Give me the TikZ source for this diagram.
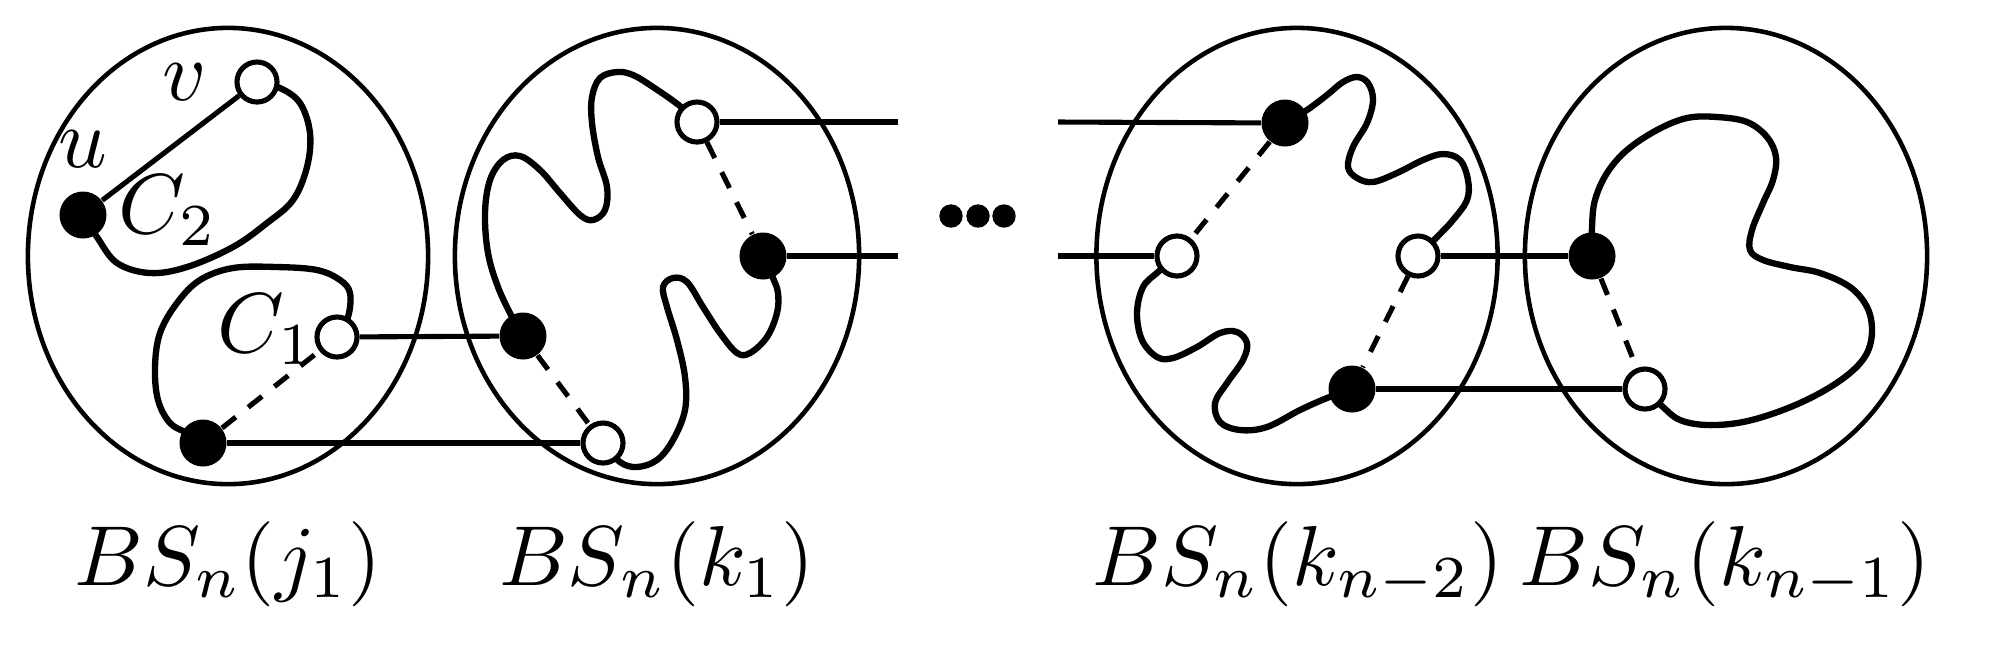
\documentclass[tikz,border=0pt]{standalone}
\usetikzlibrary{shapes.geometric,backgrounds}
\begin{document}
\begin{tikzpicture}[x=0.01cm,y=-0.01cm,
  ring/.style={draw, ellipse, line width=1.3pt, minimum height=4.56cm, inner sep=0},
  wnode/.style={circle, draw, fill=white, line width=1.45pt, minimum size=0.40cm, inner sep=0},
  bnode/.style={circle, fill=black, minimum size=0.47cm, inner sep=0},
  edge/.style={line width=1.45pt},
  dedge/.style={line width=1.45pt, dash pattern=on 5pt off 4.5pt},
  curve/.style={line width=1.8pt, line join=round, line cap=round},
  lab/.style={anchor=base, inner sep=0, scale=2.42},
  dotnode/.style={circle, fill=black, minimum size=0.234cm, inner sep=0}]
\useasboundingbox (0,0) rectangle (2000,647);

% blocks
\node[ring, minimum width=4.00cm] (R1) at (228,256) {};
\node[ring, minimum width=4.04cm] (R2) at (657,256) {};
\node[ring, minimum width=4.01cm] (R3) at (1297,256) {};
\node[ring, minimum width=4.02cm] (R4) at (1726,256) {};

% vertices block 1
\node[wnode] (v) at (257,82) {};
\node[bnode] (u) at (83,215) {};
\node[wnode] (c1w) at (337,337) {};
\node[bnode] (c1b) at (203,443) {};
% block 2
\node[wnode] (w2a) at (697,122) {};
\node[bnode] (b2a) at (763,256) {};
\node[bnode] (b2b) at (523,336) {};
\node[wnode] (w2b) at (603,443) {};
% block 3
\node[bnode] (b3a) at (1285,123) {};
\node[wnode] (w3a) at (1177,256) {};
\node[wnode] (w3b) at (1418,256) {};
\node[bnode] (b3b) at (1352,389) {};
% block 4
\node[bnode] (b4) at (1592,256) {};
\node[wnode] (w4) at (1645,389) {};

% free ends
\coordinate (e1) at (898,122);
\coordinate (e2) at (898,256);
\coordinate (s1) at (1058,122);
\coordinate (s2) at (1058,256);

% dots
\node[dotnode] (d1) at (951,216) {};
\node[dotnode] (d2) at (978,216) {};
\node[dotnode] (d3) at (1004,216) {};

% solid edges
\draw[edge] (u) -- (v);
\draw[edge] (c1w) -- (b2b);
\draw[edge] (c1b) -- (w2b);
\draw[edge] (w2a) -- (e1);
\draw[edge] (b2a) -- (e2);
\draw[edge] (s1) -- (b3a);
\draw[edge] (s2) -- (w3a);
\draw[edge] (w3b) -- (b4);
\draw[edge] (b3b) -- (w4);

% dashed edges
\draw[dedge] (c1b) -- (c1w);
\draw[dedge] (w2a) -- (b2a);
\draw[dedge] (b2b) -- (w2b);
\draw[dedge] (b3a) -- (w3a);
\draw[dedge] (w3b) -- (b3b);
\draw[dedge] (b4) -- (w4);

% curves
\begin{pgfonlayer}{background}
\draw[curve] plot[smooth, tension=0.6] coordinates {(v) (280,88) (300,103) (310,133) (307,167) (293,200) (267,223) (233,247) (187,267) (150,273) (117,263) (97,237) (u)};
\draw[curve] plot[smooth, tension=0.6] coordinates {(c1w) (348,317) (350,293) (340,280) (317,270) (277,267) (233,268) (200,280) (177,303) (160,333) (155,367) (158,400) (170,423) (187,433) (c1b)};
\draw[curve] plot[smooth, tension=0.6] coordinates {(w2a) (680,106) (653,87) (633,75) (617,72) (600,78) (592,97) (592,123) (598,157) (607,187) (605,210) (593,220) (580,215) (560,193) (540,170) (520,156) (503,160) (490,180) (485,213) (488,253) (498,287) (512,317) (b2b)};
\draw[curve] plot[smooth, tension=0.6] coordinates {(w2b) (620,462) (637,467) (657,460) (673,440) (685,410) (685,377) (677,340) (667,307) (663,287) (673,278) (687,282) (703,307) (720,333) (737,353) (750,353) (767,337) (777,313) (778,293) (773,278) (b2a)};
\draw[curve] plot[smooth, tension=0.6] coordinates {(b3a) (1307,110) (1327,95) (1343,82) (1357,77) (1368,83) (1373,100) (1367,123) (1353,147) (1348,167) (1357,178) (1373,182) (1397,173) (1423,160) (1443,154) (1460,160) (1468,180) (1467,200) (1453,220) (1437,237) (w3b)};
\draw[curve] plot[smooth, tension=0.6] coordinates {(w3a) (1158,272) (1143,287) (1137,313) (1142,340) (1157,357) (1173,358) (1197,347) (1220,333) (1237,332) (1247,343) (1243,360) (1227,383) (1215,403) (1220,422) (1240,430) (1267,427) (1300,410) (1327,398) (b3b)};
\draw[curve] plot[smooth, tension=0.6] coordinates {(b4) (1592,227) (1595,200) (1607,173) (1627,150) (1657,130) (1687,118) (1717,117) (1747,122) (1767,137) (1776,157) (1773,180) (1763,203) (1752,230) (1750,250) (1763,260) (1790,267) (1820,273) (1850,287) (1867,307) (1872,330) (1867,353) (1850,373) (1820,393) (1783,410) (1743,422) (1707,425) (1680,420) (1663,407) (w4)};
\end{pgfonlayer}

% labels
\node[lab] (lv) at (185,100) {$v$};
\node[lab] (lu) at (83,167) {$u$};
\node[lab] (lc2) at (168,233) {$C_2$};
\node[lab] (lc1) at (267,352) {$C_1$};

\node[lab] (L1) at (228,585) {$BS_n(j_1)$};
\node[lab] (L2) at (657,585) {$BS_n(k_1)$};
\node[lab] (L3) at (1298,585) {$BS_n(k_{n-2})$};
\node[lab] (L4) at (1725,585) {$BS_n(k_{n-1})$};
\end{tikzpicture}
\end{document}
